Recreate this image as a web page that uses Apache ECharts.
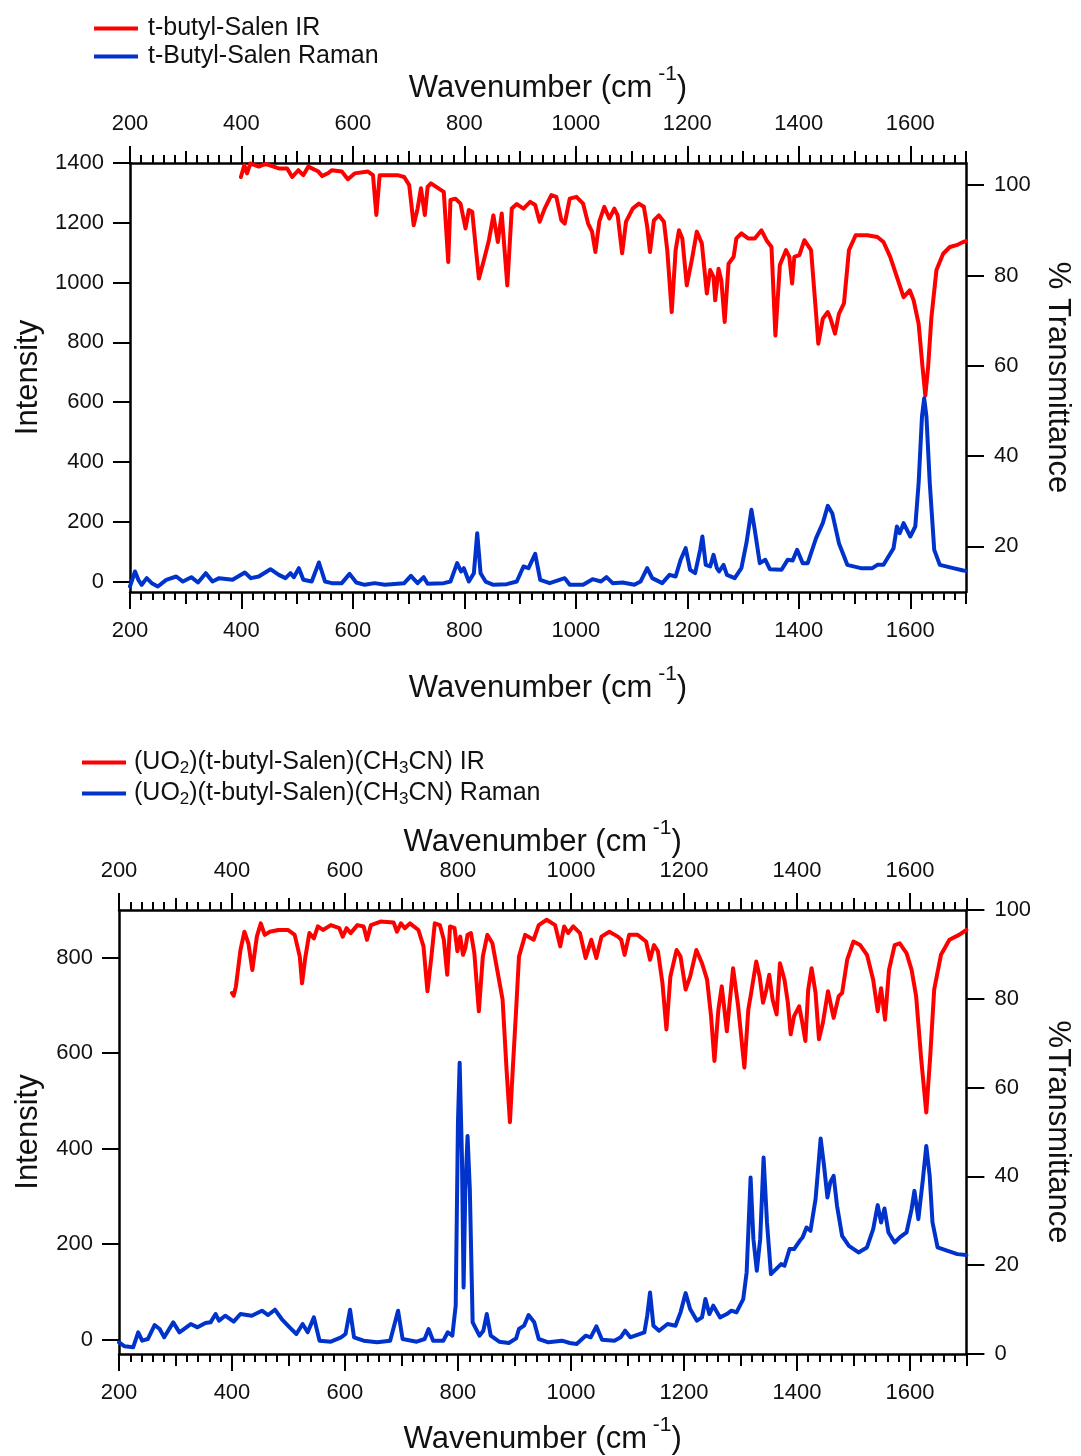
<!DOCTYPE html>
<html>
<head>
<meta charset="utf-8">
<script src="https://cdn.jsdelivr.net/npm/echarts@6/dist/echarts.min.js"></script>
<style>
  html, body { margin: 0; padding: 0; background: #fff; }
  #chart { width: 1081px; height: 1456px; }
</style>
</head>
<body>
<div id="chart"></div>
<script>
// ---- Spectra: [wavenumber (cm^-1), value] ----
// Free ligand, IR (% transmittance)
const ligandIR = [
  [399,101.8],[405,104.4],[410,102.6],[416,104.8],[431,104.1],[443,104.7],[467,103.7],[482,103.7],[491,101.8],
  [502,103.3],[511,102.2],[520,104.1],[538,103.0],[545,102.0],[556,102.7],[562,103.3],[580,103.0],[591,101.3],
  [603,102.6],[627,103.0],[636,102.2],[642,93.4],[648,102.2],[680,102.2],[692,101.8],[701,100.0],[709,91.1],
  [716,94.8],[722,99.3],[729,93.4],[734,99.6],[740,100.4],[763,98.5],[771,83.0],[775,96.7],[784,97.0],
  [793,95.9],[802,90.4],[808,94.5],[814,94.1],[826,79.3],[835,83.4],[844,87.8],[852,93.3],[860,87.4],
  [867,93.7],[877,77.8],[885,94.8],[894,95.8],[906,94.8],[918,96.3],[927,95.6],[935,91.9],[944,94.8],
  [956,97.8],[965,97.4],[974,92.2],[980,91.5],[989,97.0],[1001,97.4],[1013,95.9],[1022,91.5],[1029,89.7],
  [1035,85.2],[1042,91.9],[1051,95.2],[1060,92.6],[1069,94.8],[1075,93.3],[1083,84.9],[1090,91.9],[1102,94.8],
  [1113,95.9],[1122,95.2],[1128,90.8],[1133,85.2],[1140,92.2],[1149,93.3],[1158,91.9],[1164,85.6],[1172,71.9],
  [1179,85.6],[1185,90.0],[1191,88.2],[1199,77.8],[1208,83.4],[1217,89.7],[1226,87.1],[1235,76.0],[1241,81.2],
  [1247,79.7],[1250,74.5],[1256,81.5],[1261,78.9],[1267,69.7],[1274,82.6],[1283,84.1],[1288,88.2],[1297,89.3],
  [1309,88.2],[1321,88.2],[1333,90.0],[1342,87.8],[1351,86.3],[1358,66.7],[1366,82.3],[1377,85.6],[1383,84.1],
  [1388,78.2],[1392,84.1],[1401,84.5],[1410,87.8],[1422,85.6],[1431,71.5],[1435,64.9],[1443,70.4],[1452,71.9],
  [1457,70.4],[1465,67.1],[1472,71.5],[1481,73.8],[1490,85.6],[1502,88.9],[1523,88.9],[1541,88.5],[1552,87.4],
  [1564,84.1],[1576,79.7],[1588,75.2],[1599,76.7],[1606,74.5],[1615,69.3],[1622,59.7],[1627,53.4],[1632,59.7],
  [1638,70.8],[1647,81.2],[1659,84.8],[1671,86.3],[1683,86.7],[1695,87.4],[1700,87.6]
];

// Free ligand, Raman (intensity)
const ligandRaman = [
  [200,-16],[209,33.6],[215,5.7],[221,-11],[230,11.3],[239,-5.4],[250,-16.6],[265,5.7],[283,16.8],[295,0],
  [310,14.6],[322,-3.2],[336,28],[348,0],[360,11.3],[384,5.7],[406,30.3],[417,11.3],[431,16.8],[452,41.3],
  [467,22.4],[479,11.3],[488,28],[494,14.6],[503,44.7],[511,5.7],[526,0],[539,63.7],[550,0],[562,-5.4],
  [580,-5.4],[594,25.7],[606,-3.2],[621,-11],[639,-5.4],[657,-11],[692,-5.4],[704,19.1],[716,-5.4],[727,14.6],
  [734,-7.6],[763,-5.4],[775,0],[787,61.5],[794,33.6],[799,44.7],[808,0],[817,28],[823,161.8],[829,28],
  [838,0],[852,-11],[876,-8.8],[894,0],[906,50.3],[915,44.7],[927,92.7],[936,5.7],[953,-5.4],[980,11.3],
  [989,-11],[1013,-11],[1030,7.9],[1045,0],[1055,14.6],[1066,-5.4],[1084,-3.2],[1105,-11],[1116,0],[1128,44.7],
  [1137,11.3],[1155,-5.4],[1168,22.4],[1179,16.8],[1188,72.6],[1197,111.6],[1205,39.2],[1214,28],[1223,106],
  [1227,150.6],[1233,55.9],[1241,50.3],[1247,89.3],[1253,44.7],[1257,33.6],[1265,55.9],[1271,22.4],[1285,11.3],
  [1297,44.7],[1306,128.3],[1315,239.8],[1321,172.9],[1330,61.5],[1340,72.6],[1348,41.3],[1369,39.2],[1380,72.6],
  [1389,70.4],[1397,106],[1407,61.5],[1416,61.5],[1431,145.1],[1443,195.3],[1452,253.2],[1460,228.7],[1472,128.3],
  [1487,55.9],[1511,44.7],[1532,44.7],[1541,55.9],[1552,55.9],[1570,111.6],[1576,184.1],[1581,161.8],[1588,195.3],
  [1600,150.6],[1609,184.1],[1615,329],[1621,552],[1625,613],[1629,552],[1635,329],[1643,106],[1653,55.9],
  [1677,44.7],[1695,37],[1700,36]
];

// Uranyl complex, IR (% transmittance)
const complexIR = [
  [400,81.3],[403,80.7],[407,82.8],[415,91.0],[422,95.1],[429,92.5],[436,86.5],[444,94.0],[451,97.0],[458,94.4],
  [467,95.1],[482,95.5],[499,95.5],[511,94.4],[520,89.5],[524,83.5],[530,89.5],[537,94.8],[545,93.6],[552,96.3],
  [561,95.5],[575,96.6],[590,95.9],[596,94.0],[603,95.9],[610,94.8],[622,96.6],[633,96.3],[639,93.3],[646,96.6],
  [663,97.4],[686,97.2],[692,95.1],[699,97.0],[706,95.9],[715,97.0],[730,95.5],[739,91.8],[746,81.7],[753,89.5],
  [759,97.0],[768,96.6],[775,93.3],[781,85.4],[786,96.3],[794,95.9],[799,90.7],[804,94.0],[809,89.9],[813,91.4],
  [817,94.4],[823,94.8],[829,90.3],[837,77.2],[844,89.5],[852,94.4],[861,92.5],[870,86.2],[879,79.8],[886,64.1],
  [892,52.2],[897,64.1],[903,77.6],[908,89.5],[919,94.4],[934,93.3],[943,96.6],[957,97.8],[972,96.6],[981,91.8],
  [988,96.3],[995,94.8],[1004,96.3],[1016,94.8],[1026,89.2],[1036,93.3],[1045,89.2],[1054,94.0],[1068,95.1],
  [1083,94.0],[1089,93.3],[1095,89.9],[1103,94.4],[1118,94.4],[1133,92.9],[1140,88.8],[1147,92.1],[1154,90.7],
  [1162,83.5],[1169,73.1],[1176,85.0],[1187,91.0],[1194,89.5],[1203,82.1],[1211,85.0],[1222,91.0],[1232,88.0],
  [1241,84.3],[1248,76.1],[1254,66.0],[1261,77.6],[1267,82.8],[1276,72.7],[1287,86.9],[1296,78.3],[1307,64.5],
  [1314,77.6],[1319,81.3],[1328,88.4],[1334,85.0],[1340,79.1],[1346,82.1],[1351,85.4],[1357,79.8],[1364,76.5],
  [1370,88.0],[1378,84.3],[1384,79.1],[1389,72.0],[1395,76.1],[1404,78.3],[1409,75.0],[1415,70.5],[1420,82.1],
  [1426,86.9],[1433,81.3],[1439,70.9],[1446,74.6],[1455,81.7],[1465,75.7],[1474,80.6],[1480,81.3],[1489,88.8],
  [1500,92.9],[1512,92.1],[1524,89.9],[1535,84.3],[1543,77.2],[1549,82.4],[1556,75.3],[1563,86.5],[1573,92.1],
  [1582,92.5],[1594,90.3],[1603,86.5],[1611,80.6],[1620,66.4],[1629,54.4],[1636,67.1],[1643,82.1],[1655,89.9],
  [1670,93.3],[1687,94.4],[1700,95.5]
];

// Uranyl complex, Raman (intensity)
const complexRaman = [
  [200,-5.6],[210,-14],[225,-16],[234,15.4],[241,-2.1],[251,1.4],[263,30.7],[272,22.3],[280,4.9],[296,36.3],
  [307,15.4],[327,32.8],[339,25.8],[353,34.9],[362,36.3],[371,53.7],[377,39.8],[388,50.2],[403,37.7],[415,53.7],
  [435,50.2],[453,60.7],[464,51.6],[476,62.8],[488,43.3],[502,25.8],[514,11.9],[525,32.8],[534,15.4],[545,46.7],
  [555,-2.1],[575,-4.2],[593,4.9],[601,11.9],[609,62.8],[616,4.9],[633,-2.1],[657,-5.6],[680,-2.1],[694,60.7],
  [702,1.4],[727,-4.2],[741,1.4],[748,22.3],[756,-2.1],[774,-2.1],[782,15.4],[790,8.4],[796,71.2],[800,454.7],
  [803,580.3],[807,385],[810,109.5],[813,315],[817,426.8],[821,315],[826,36.3],[838,8.4],[845,18.8],[851,53.7],
  [858,8.4],[873,-4.2],[890,-7],[903,2.8],[908,22.3],[917,29.3],[925,51.6],[935,36.3],[943,1.4],[960,-5.6],
  [984,-2.1],[998,-7],[1010,-9],[1026,8.4],[1035,4.9],[1045,27.9],[1055,0],[1077,-2.1],[1088,4.9],[1096,18.8],
  [1105,4.9],[1130,15.4],[1135,50.2],[1140,99],[1146,29.3],[1156,18.8],[1171,32.8],[1185,29.3],[1194,57.2],
  [1203,97.6],[1211,64.2],[1223,39.8],[1232,46.7],[1238,85.1],[1245,53.7],[1252,71.2],[1264,46.7],[1276,53.7],
  [1284,60.7],[1293,57.2],[1305,85.1],[1311,140.9],[1318,339.6],[1323,210.6],[1329,144.4],[1335,210.6],[1341,381.5],
  [1347,245.5],[1354,137.4],[1363,147.9],[1372,158.3],[1378,154.8],[1387,189.7],[1395,189.7],[1405,207.2],
  [1410,214.1],[1417,235],[1424,228.1],[1433,294.3],[1438,364.1],[1442,421.2],[1448,364.1],[1454,297.8],
  [1459,329.2],[1465,343.1],[1471,280.4],[1480,217.6],[1492,196.7],[1509,182.7],[1524,193.2],[1535,231.5],
  [1543,281.8],[1549,245.5],[1555,274.8],[1562,224.6],[1573,203.6],[1582,214.1],[1594,224.6],[1603,273.4],
  [1608,311.7],[1615,252.5],[1623,336.2],[1629,405.9],[1635,343.1],[1640,245.5],[1649,193.2],[1667,186.2],
  [1684,179.2],[1700,177.2]
];

// ---- Tick labels ----
const wavenumberTicks = [200, 400, 600, 800, 1000, 1200, 1400, 1600];
const ligandIntensityTicks = [0, 200, 400, 600, 800, 1000, 1200, 1400];
const ligandTransTicks = [20, 40, 60, 80, 100];
const complexIntensityTicks = [0, 200, 400, 600, 800];
const complexTransTicks = [0, 20, 40, 60, 80, 100];

const seriesNames = {
  ligandIR: 't-butyl-Salen IR',
  ligandRaman: 't-Butyl-Salen Raman',
  complexIR: '(UO2)(t-butyl-Salen)(CH3CN) IR',
  complexRaman: '(UO2)(t-butyl-Salen)(CH3CN) Raman'
};

const FONT = '"Liberation Sans", Arial, Helvetica, sans-serif';
const INK = '#111';
const RED = '#ff0000';
const BLUE = '#0033cc';
const plain = v => String(v);

// Secondary tick positions: every 100 (medium) and every 20 (short)
const midTicks = [], minorTicks = [];
for (let v = 200; v <= 1700; v += 20) {
  if (v % 200 === 0) continue;
  if (v % 100 === 0) midTicks.push(v); else minorTicks.push(v);
}

const axisLine = { show: true, onZero: false, lineStyle: { color: '#000', width: 2.5 } };
const xTitle = '{t|Wavenumber (cm}{p| -1}{t|)}';
const titleRich = {
  t: { fontFamily: FONT, fontSize: 31, color: INK },
  p: { fontFamily: FONT, fontSize: 21, color: INK, padding: [0, 0, 28, 0] }
};

// Three stacked x axes per side: labelled major ticks, medium ticks, short ticks
function xAxesFor(gridIndex, position, nameGap) {
  const base = { type: 'value', gridIndex, position, min: 200, max: 1700, splitLine: { show: false } };
  return [
    Object.assign({}, base, {
      axisLine,
      axisTick: { show: true, customValues: wavenumberTicks, length: 17, lineStyle: { color: '#000', width: 2 } },
      axisLabel: { show: true, customValues: wavenumberTicks, formatter: plain, margin: 28,
                   fontFamily: FONT, fontSize: 22, color: INK },
      name: xTitle, nameLocation: 'middle', nameGap,
      nameTextStyle: { rich: titleRich }
    }),
    Object.assign({}, base, {
      axisLine: { show: false, onZero: false },
      axisTick: { show: true, customValues: midTicks, length: 12, lineStyle: { color: '#000', width: 2 } },
      axisLabel: { show: false }
    }),
    Object.assign({}, base, {
      axisLine: { show: false, onZero: false },
      axisTick: { show: true, customValues: minorTicks, length: 8, lineStyle: { color: '#000', width: 2 } },
      axisLabel: { show: false }
    })
  ];
}

function yAxisFor(gridIndex, position, min, max, ticks, name, nameGap, rotate, tickLen) {
  return {
    type: 'value', gridIndex, position, min, max,
    splitLine: { show: false },
    axisLine,
    axisTick: { show: true, customValues: ticks, length: tickLen, lineStyle: { color: '#000', width: 2 } },
    axisLabel: { show: true, customValues: ticks, formatter: plain, margin: position === 'left' ? 26 : 28,
                 fontFamily: FONT, fontSize: 22, color: INK },
    name, nameLocation: 'middle', nameGap, nameRotate: rotate,
    nameTextStyle: { fontFamily: FONT, fontSize: 31, color: INK }
  };
}

const xAxis = [].concat(
  xAxesFor(0, 'bottom', 72), xAxesFor(0, 'top', 50),
  xAxesFor(1, 'bottom', 61), xAxesFor(1, 'top', 43)
);
// main x axes: grid0 bottom = 0, grid0 top = 3, grid1 bottom = 6, grid1 top = 9

const yAxis = [
  yAxisFor(0, 'left', -35, 1400, ligandIntensityTicks, 'Intensity', 86, 90, 17),
  yAxisFor(0, 'right', 9.9, 104.9, ligandTransTicks, '% Transmittance', 76, -90, 18),
  yAxisFor(1, 'left', -30, 900, complexIntensityTicks, 'Intensity', 75, 90, 17),
  yAxisFor(1, 'right', 0, 100, complexTransTicks, '%Transmittance', 70, -90, 18)
];

function lineSeries(name, data, xIdx, yIdx, color) {
  return {
    type: 'line', name, data, xAxisIndex: xIdx, yAxisIndex: yIdx,
    showSymbol: false, symbol: 'none', smooth: false, clip: true,
    lineStyle: { color, width: 4, join: 'round', cap: 'round' }, itemStyle: { color },
    emphasis: { disabled: true }
  };
}

// Legend text with subscripted digits
function legendLabel(name) {
  return '{t|' + name.replace(/(\d)/g, '}{s|$1}{t|') + '}';
}
const legendRich = {
  t: { fontFamily: FONT, fontSize: 25, color: INK },
  s: { fontFamily: FONT, fontSize: 17, color: INK, padding: [12, 0, 0, 0] }
};
function legendFor(names, left, top, gap, textPad) {
  return {
    data: names, orient: 'vertical', left, top, itemGap: gap,
    icon: 'rect', itemWidth: 44, itemHeight: 4,
    formatter: legendLabel,
    textStyle: { rich: legendRich, padding: [0, 0, 0, textPad] },
    selectedMode: false
  };
}

const option = {
  animation: false,
  backgroundColor: '#ffffff',
  grid: [
    { left: 130, top: 163, width: 841, height: 429 },
    { left: 119, top: 910, width: 858, height: 445 }
  ],
  legend: [
    legendFor([seriesNames.ligandIR, seriesNames.ligandRaman], 89, 11, 3, 5),
    legendFor([seriesNames.complexIR, seriesNames.complexRaman], 77, 745, 4, 3)
  ],
  xAxis, yAxis,
  series: [
    lineSeries(seriesNames.ligandIR, ligandIR, 0, 1, RED),
    lineSeries(seriesNames.ligandRaman, ligandRaman, 0, 0, BLUE),
    lineSeries(seriesNames.complexIR, complexIR, 6, 3, RED),
    lineSeries(seriesNames.complexRaman, complexRaman, 6, 2, BLUE)
  ]
};

const chart = echarts.init(document.getElementById('chart'), null, { renderer: 'canvas' });
chart.setOption(option);
</script>
</body>
</html>
